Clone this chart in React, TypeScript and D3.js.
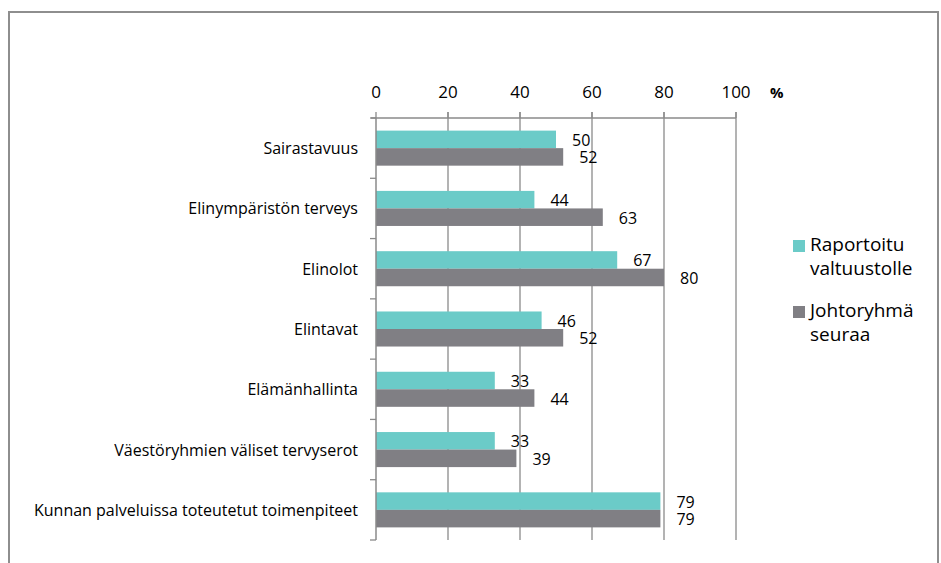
import * as d3 from 'd3';
import React from 'react';

const categories = [
  'Sairastavuus',
  'Elinympäristön terveys',
  'Elinolot',
  'Elintavat',
  'Elämänhallinta',
  'Väestöryhmien väliset tervyserot',
  'Kunnan palveluissa toteutetut toimenpiteet',
];
const seriesNames = ['Raportoitu valtuustolle', 'Johtoryhmä seuraa'];
const raportoitu = [50, 44, 67, 46, 33, 33, 79];
const johtoryhma = [52, 63, 80, 52, 44, 39, 79];
const xTicks = [0, 20, 40, 60, 80, 100];

const colors = ['#6BCBC8', '#807F84'];
const font = '"Open Sans", "Noto Sans", sans-serif';

const App = () => {
  const width = 941;
  const height = 563;
  const x = d3.scaleLinear().domain([0, 100]).range([376, 736]);
  const y = d3.scaleBand().domain(categories).range([118, 540]).padding(0);
  const ySub = d3.scaleBand().domain(seriesNames).range([0, y.bandwidth()]).paddingInner(0).paddingOuter(0.72);
  const values = [raportoitu, johtoryhma];
  const boundaries = [118, ...categories.map((c) => (y(c) ?? 0) + y.bandwidth())];

  return (
    <svg width={width} height={height} style={{ position: 'absolute', left: 0, top: 0, background: '#fff' }}>
      <rect x={9} y={12} width={929} height={600} fill="#fff" stroke="#8E8E8E" strokeWidth={2} />

      {/* gridlines */}
      {xTicks.slice(1).map((t) => (
        <line key={t} x1={x(t)} x2={x(t)} y1={112} y2={540} stroke="#8A8A8A" strokeWidth={1.3} />
      ))}

      {/* bars */}
      {values.map((vals, si) =>
        categories.map((c, i) => (
          <rect
            key={si + '-' + c}
            x={x(0)}
            y={(y(c) ?? 0) + (ySub(seriesNames[si]) ?? 0)}
            width={x(vals[i]) - x(0)}
            height={ySub.bandwidth()}
            fill={colors[si]}
          />
        ))
      )}

      {/* top axis */}
      <line x1={371} x2={x(100)} y1={118} y2={118} stroke="#8A8A8A" strokeWidth={1.5} />
      {xTicks.map((t) => (
        <g key={t}>
          <line x1={x(t)} x2={x(t)} y1={112} y2={118} stroke="#8A8A8A" strokeWidth={1.3} />
          <text x={x(t)} y={98} textAnchor="middle" fontFamily={font} fontSize={17} fill="#000">
            {t}
          </text>
        </g>
      ))}
      <text x={770} y={98} fontFamily={font} fontSize={15} fontWeight="bold" fill="#000">
        %
      </text>

      {/* left axis */}
      <line x1={x(0)} x2={x(0)} y1={118} y2={540} stroke="#8A8A8A" strokeWidth={1.5} />
      {boundaries.map((b, i) => (
        <line key={i} x1={370} x2={x(0)} y1={b} y2={b} stroke="#8A8A8A" strokeWidth={1.3} />
      ))}
      {categories.map((c) => (
        <text
          key={c}
          x={358}
          y={(y(c) ?? 0) + y.bandwidth() / 2 + 6}
          textAnchor="end"
          fontFamily={font}
          fontSize={16}
          fill="#000"
        >
          {c}
        </text>
      ))}

      {/* value labels */}
      {values.map((vals, si) =>
        categories.map((c, i) => (
          <text
            key={'l' + si + c}
            x={x(vals[i]) + 16}
            y={(y(c) ?? 0) + (ySub(seriesNames[si]) ?? 0) + ySub.bandwidth() / 2 + 6.5}
            fontFamily={font}
            fontSize={16}
            fill="#000"
          >
            {vals[i]}
          </text>
        ))
      )}

      {/* legend */}
      {seriesNames.map((s, i) => {
        const top = 240 + i * 66;
        const words = s.split(' ');
        return (
          <g key={s}>
            <rect x={793} y={top} width={12} height={12} fill={colors[i]} />
            <text x={810} y={top + 11} fontFamily={font} fontSize={19} fill="#000">
              {words[0]}
            </text>
            <text x={810} y={top + 35} fontFamily={font} fontSize={19} fill="#000">
              {words[1]}
            </text>
          </g>
        );
      })}
    </svg>
  );
};

export default App;
